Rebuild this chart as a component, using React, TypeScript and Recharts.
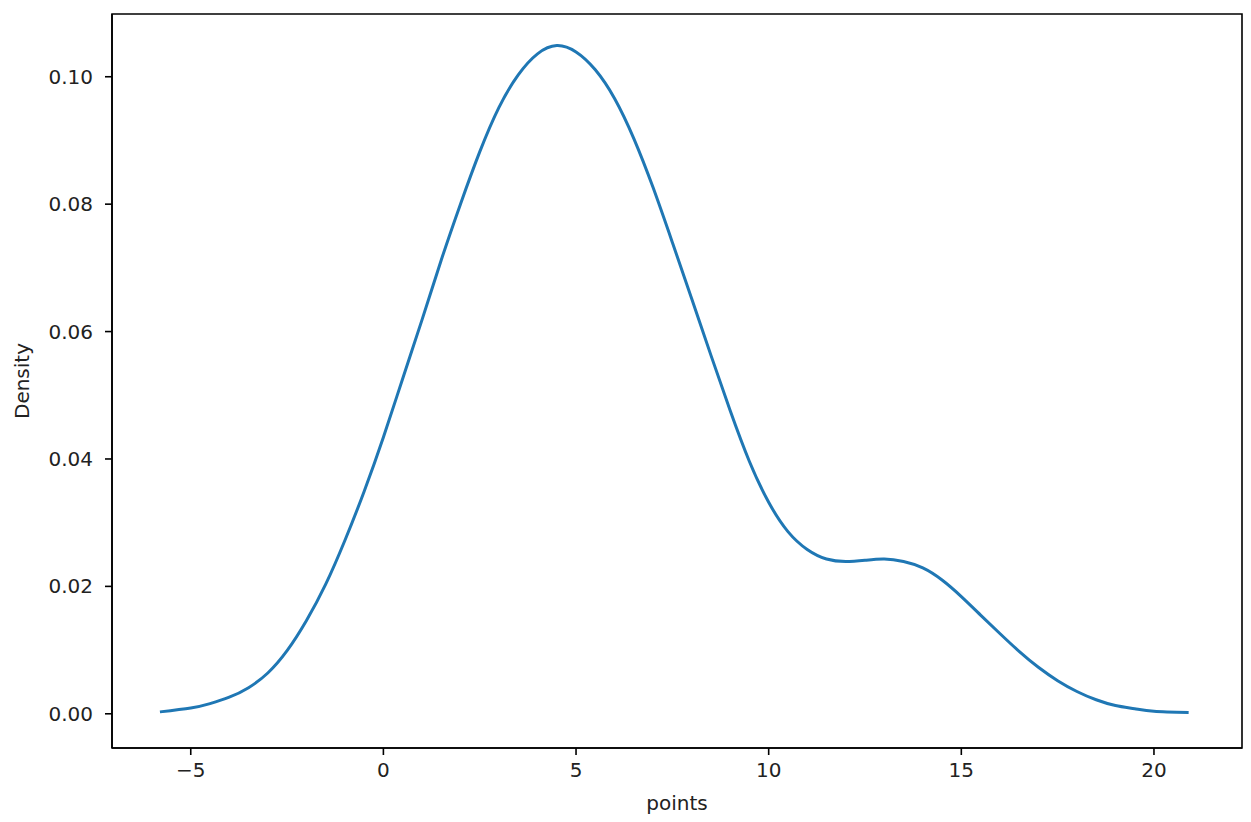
import { Line, LineChart, ReferenceArea, XAxis, YAxis } from 'recharts';

const points = [
  -5.8, -5, -4.5, -4, -3.5, -3, -2.5, -2, -1.5, -1, -0.5, 0, 0.5, 1, 1.5, 2, 2.5, 3, 3.5, 4, 4.5, 5,
  5.5, 6, 6.5, 7, 7.5, 8, 8.5, 9, 9.5, 10, 10.5, 11, 11.5, 12, 12.5, 13, 13.5, 14, 14.5, 15, 15.5, 16,
  16.5, 17, 17.5, 18, 18.5, 19, 19.5, 20, 20.9,
];

const density = [
  0.0003, 0.0009, 0.0016, 0.0026, 0.0041, 0.0064, 0.0099, 0.0146, 0.0203, 0.0272, 0.0349, 0.0434, 0.0526,
  0.0618, 0.0712, 0.08, 0.0882, 0.0952, 0.1003, 0.1036, 0.1049, 0.1039, 0.1011, 0.0966, 0.0903, 0.0826,
  0.074, 0.0652, 0.0563, 0.0476, 0.0396, 0.0332, 0.0286, 0.0258, 0.0243, 0.0239, 0.0241, 0.0243, 0.0239,
  0.0229, 0.021, 0.0184, 0.0155, 0.0126, 0.0098, 0.0073, 0.0052, 0.0035, 0.0022, 0.0013, 0.0008, 0.0004,
  0.0002,
];

const xTicks = [-5, 0, 5, 10, 15, 20];
const yTicks = [0, 0.02, 0.04, 0.06, 0.08, 0.1];

const data = points.map((p, i) => ({ points: p, density: density[i] }));

const xDomain: [number, number] = [-7.044, 22.285];
const yDomain: [number, number] = [-0.00537, 0.10985];

const font = '"DejaVu Sans", sans-serif';
const tickStyle = { fontSize: 20, fill: '#222', fontFamily: font };
const formatX = (v: number) => (v < 0 ? '\u2212' + Math.abs(v) : String(v));

export default function App() {
  return (
    <LineChart width={1243} height={814} data={data} margin={{ top: 6, right: 9, bottom: 0, left: 0 }}>
      <XAxis
        dataKey="points"
        type="number"
        domain={xDomain}
        ticks={xTicks}
        allowDataOverflow
        tickFormatter={formatX}
        height={74}
        tickSize={7}
        tickMargin={8}
        tick={tickStyle}
        axisLine={{ stroke: '#000', strokeWidth: 1.6 }}
        tickLine={{ stroke: '#000', strokeWidth: 1.6 }}
        label={{ value: 'points', position: 'insideBottom', offset: 12, style: { fontSize: 20, fill: '#222', fontFamily: font } }}
      />
      <YAxis
        type="number"
        domain={yDomain}
        ticks={yTicks}
        allowDataOverflow
        tickFormatter={(v: number) => v.toFixed(2)}
        width={104}
        tickSize={7}
        tickMargin={12}
        tick={tickStyle}
        axisLine={{ stroke: '#000', strokeWidth: 1.6 }}
        tickLine={{ stroke: '#000', strokeWidth: 1.6 }}
        label={{
          value: 'Density',
          angle: -90,
          position: 'insideLeft',
          offset: 14,
          style: { fontSize: 20, fill: '#222', fontFamily: font, textAnchor: 'middle' },
        }}
      />
      <ReferenceArea x1={xDomain[0]} x2={xDomain[1]} y1={yDomain[0]} y2={yDomain[1]} fill="none" stroke="#000" strokeWidth={1.6} />
      <Line type="natural" dataKey="density" stroke="#1f77b4" strokeWidth={3} dot={false} isAnimationActive={false} />
    </LineChart>
  );
}
